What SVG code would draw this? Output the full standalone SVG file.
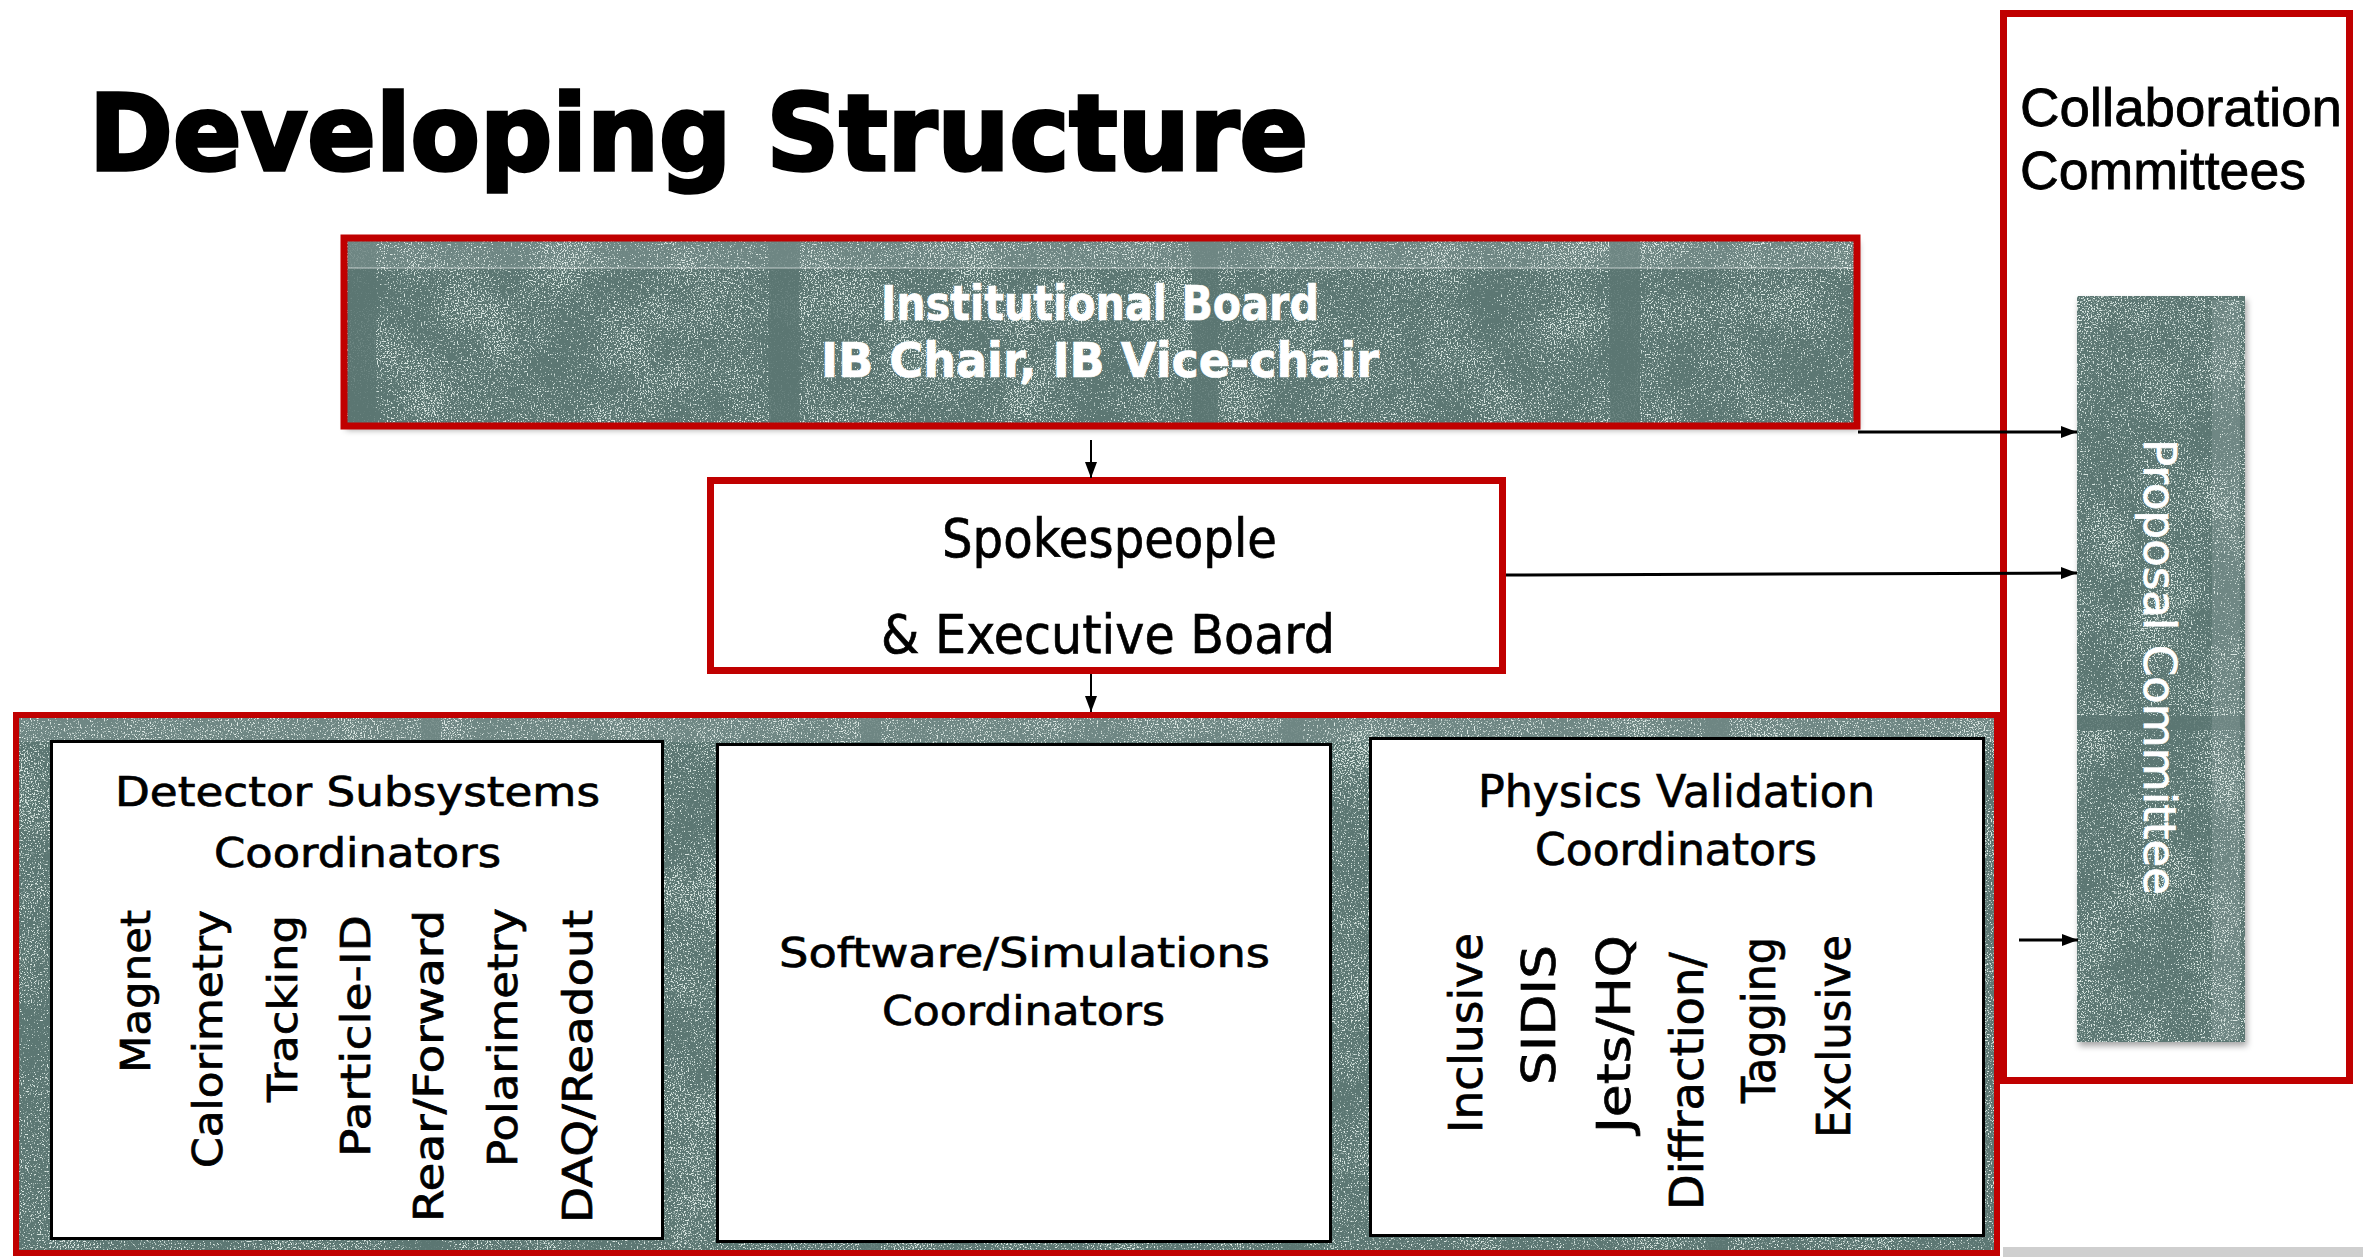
<svg xmlns="http://www.w3.org/2000/svg" width="2363" height="1257" viewBox="0 0 2363 1257">
<defs>
<style>
.red{fill:none;stroke:#c00000;stroke-width:7}
.wbox{fill:#ffffff;stroke:#000000;stroke-width:3}
.comic{font-family:"DejaVu Sans","Liberation Sans",sans-serif;fill:#000000;stroke:#000000;stroke-width:0.7}
.lib{font-family:"Liberation Sans",Arial,sans-serif;fill:#000000;stroke:#000000;stroke-width:0.8}
.wt{fill:#ffffff;stroke:#ffffff;font-weight:bold}
.conn{stroke:#000000;fill:none}
.seam{fill:#5b7672;opacity:0.85}
</style>
<filter id="chalk" x="0" y="0" width="1" height="1" color-interpolation-filters="sRGB">
<feTurbulence type="fractalNoise" baseFrequency="0.7" numOctaves="2" seed="4" result="f"/>
<feTurbulence type="fractalNoise" baseFrequency="0.015" numOctaves="2" seed="9" result="c"/>
<feColorMatrix in="f" type="matrix" values="0 0 0 0 1  0 0 0 0 1  0 0 0 0 1  0.8 0 0 0 0" result="fa"/>
<feColorMatrix in="c" type="matrix" values="0 0 0 0 1  0 0 0 0 1  0 0 0 0 1  0.2 0 0 0 0" result="ca"/>
<feComposite in="fa" in2="ca" operator="arithmetic" k1="0" k2="1" k3="1" k4="0" result="sum"/>
<feColorMatrix in="sum" type="matrix" values="0 0 0 0 0.86  0 0 0 0 0.91  0 0 0 0 0.89  0 0 0 9 -4.95" result="sp"/>
<feFlood flood-color="#5c7773" result="base"/>
<feComposite in="sp" in2="base" operator="over" result="mix"/>
<feComposite in="mix" in2="SourceGraphic" operator="in"/>
</filter>
<filter id="shadow" x="-5%" y="-5%" width="110%" height="115%">
<feDropShadow dx="2" dy="4" stdDeviation="3" flood-color="#000000" flood-opacity="0.35"/>
</filter>
<marker id="ah" markerUnits="userSpaceOnUse" markerWidth="16" markerHeight="12" refX="16" refY="6" orient="auto">
<path d="M0,0 L16,6 L0,12 z" fill="#000000"/>
</marker>
</defs>

<rect x="0" y="0" width="2363" height="1257" fill="#ffffff"/>

<g id="title">
<text x="89" y="170" font-family="DejaVu Sans, Liberation Sans, sans-serif" font-weight="bold" font-size="106" fill="#000000" stroke="#000000" stroke-width="3.5" textLength="1219" lengthAdjust="spacingAndGlyphs">Developing Structure</text>
</g>

<g id="collaboration-committees">
<rect x="2003.5" y="13.5" width="346" height="1067" fill="#ffffff" class="red"/>
<text class="lib" x="2020" y="126" font-size="54" textLength="322" lengthAdjust="spacingAndGlyphs">Collaboration</text>
<text class="lib" x="2020" y="189" font-size="54" textLength="286" lengthAdjust="spacingAndGlyphs">Committees</text>
</g>

<g id="proposal-committee">
<rect x="2077" y="296" width="168" height="746" fill="#5c7773" filter="url(#shadow)"/>
<rect x="2077" y="296" width="168" height="746" fill="#5c7773" filter="url(#chalk)"/>
<rect x="2077" y="716" width="168" height="14" class="seam"/>
<rect x="2212" y="300" width="28" height="740" fill="#ffffff" opacity="0.12"/>
<text class="comic" transform="translate(2144,439) rotate(90)" font-size="44" style="fill:#ffffff;stroke:#ffffff" textLength="456" lengthAdjust="spacingAndGlyphs">Proposal Committee</text>
</g>

<g id="institutional-board">
<rect x="344" y="238" width="1513" height="188" fill="#5c7773" filter="url(#shadow)"/>
<rect x="344" y="238" width="1513" height="188" fill="#5c7773" filter="url(#chalk)"/>
<rect x="348" y="240" width="28" height="184" class="seam"/>
<rect x="769" y="240" width="30" height="184" class="seam"/>
<rect x="1192" y="240" width="26" height="184" class="seam"/>
<rect x="1610" y="240" width="30" height="184" class="seam"/>
<rect x="348" y="240" width="1506" height="28" fill="#ffffff" opacity="0.12"/>
<rect x="348" y="267" width="1506" height="2" fill="#ffffff" opacity="0.3"/>
<rect x="344" y="238" width="1513" height="188" class="red"/>
<text class="comic wt" x="881" y="320" font-size="48" textLength="438" lengthAdjust="spacingAndGlyphs">Institutional Board</text>
<text class="comic wt" x="821" y="377" font-size="48" textLength="558" lengthAdjust="spacingAndGlyphs">IB Chair, IB Vice-chair</text>
</g>

<g id="spokespeople">
<rect x="710.5" y="480.5" width="792" height="190" fill="#ffffff" class="red"/>
<text class="comic" x="942" y="557" font-size="54" textLength="335" lengthAdjust="spacingAndGlyphs">Spokespeople</text>
<text class="comic" x="881" y="653" font-size="54" textLength="454" lengthAdjust="spacingAndGlyphs">&amp; Executive Board</text>
</g>

<g id="coordination-frame">
<rect x="16" y="715" width="1981" height="538" fill="#5c7773" filter="url(#chalk)"/>
<rect x="421" y="718" width="20" height="532" class="seam"/>
<rect x="861" y="718" width="20" height="532" class="seam"/>
<rect x="1283" y="718" width="20" height="532" class="seam"/>
<rect x="1706" y="718" width="22" height="532" class="seam"/>
<rect x="19" y="718" width="1975" height="24" fill="#ffffff" opacity="0.12"/>
<rect x="16" y="715" width="1981" height="538" class="red" style="stroke-width:6"/>
<rect x="2003" y="1247" width="360" height="10" fill="#cfcfcf"/>
</g>

<g id="detector-subsystems">
<rect x="51.5" y="741.5" width="611" height="497" class="wbox"/>
<text class="comic" x="115" y="806" font-size="41" textLength="485" lengthAdjust="spacingAndGlyphs">Detector Subsystems</text>
<text class="comic" x="214" y="867" font-size="41" textLength="287" lengthAdjust="spacingAndGlyphs">Coordinators</text>
<g font-size="40">
<text class="comic" transform="translate(150,1073) rotate(-90)" textLength="163" lengthAdjust="spacingAndGlyphs">Magnet</text>
<text class="comic" transform="translate(222,1168) rotate(-90)" textLength="258" lengthAdjust="spacingAndGlyphs">Calorimetry</text>
<text class="comic" transform="translate(297,1102) rotate(-90)" textLength="187" lengthAdjust="spacingAndGlyphs">Tracking</text>
<text class="comic" transform="translate(370,1157) rotate(-90)" textLength="242" lengthAdjust="spacingAndGlyphs">Particle-ID</text>
<text class="comic" transform="translate(443,1222) rotate(-90)" textLength="312" lengthAdjust="spacingAndGlyphs">Rear/Forward</text>
<text class="comic" transform="translate(517,1167) rotate(-90)" textLength="259" lengthAdjust="spacingAndGlyphs">Polarimetry</text>
<text class="comic" transform="translate(592,1223) rotate(-90)" textLength="313" lengthAdjust="spacingAndGlyphs">DAQ/Readout</text>
</g>
</g>

<g id="software-simulations">
<rect x="717.5" y="744.5" width="613" height="497" class="wbox"/>
<text class="comic" x="779" y="967" font-size="41" textLength="491" lengthAdjust="spacingAndGlyphs">Software/Simulations</text>
<text class="comic" x="882" y="1025" font-size="41" textLength="283" lengthAdjust="spacingAndGlyphs">Coordinators</text>
</g>

<g id="physics-validation">
<rect x="1370.5" y="738.5" width="613" height="497" class="wbox"/>
<text class="comic" x="1478" y="807" font-size="44" textLength="397" lengthAdjust="spacingAndGlyphs">Physics Validation</text>
<text class="comic" x="1535" y="865" font-size="44" textLength="282" lengthAdjust="spacingAndGlyphs">Coordinators</text>
<g font-size="46">
<text class="comic" transform="translate(1482,1133) rotate(-90)" textLength="200" lengthAdjust="spacingAndGlyphs">Inclusive</text>
<text class="comic" transform="translate(1555,1085) rotate(-90)" textLength="140" lengthAdjust="spacingAndGlyphs">SIDIS</text>
<text class="comic" transform="translate(1630,1133) rotate(-90)" textLength="198" lengthAdjust="spacingAndGlyphs">Jets/HQ</text>
<text class="comic" transform="translate(1703,1210) rotate(-90)" textLength="258" lengthAdjust="spacingAndGlyphs">Diffraction/</text>
<text class="comic" transform="translate(1775,1103) rotate(-90)" textLength="166" lengthAdjust="spacingAndGlyphs">Tagging</text>
<text class="comic" transform="translate(1850,1138) rotate(-90)" textLength="203" lengthAdjust="spacingAndGlyphs">Exclusive</text>
</g>
</g>

<g id="connectors">
<line class="conn" x1="1091" y1="440" x2="1091" y2="478" stroke-width="2" marker-end="url(#ah)"/>
<line class="conn" x1="1091" y1="674" x2="1091" y2="712" stroke-width="2" marker-end="url(#ah)"/>
<line class="conn" x1="1858" y1="432" x2="2077" y2="432" stroke-width="3" marker-end="url(#ah)"/>
<line class="conn" x1="1506" y1="575" x2="2077" y2="573" stroke-width="3" marker-end="url(#ah)"/>
<line class="conn" x1="2019" y1="940" x2="2078" y2="940" stroke-width="3" marker-end="url(#ah)"/>
</g>
</svg>
